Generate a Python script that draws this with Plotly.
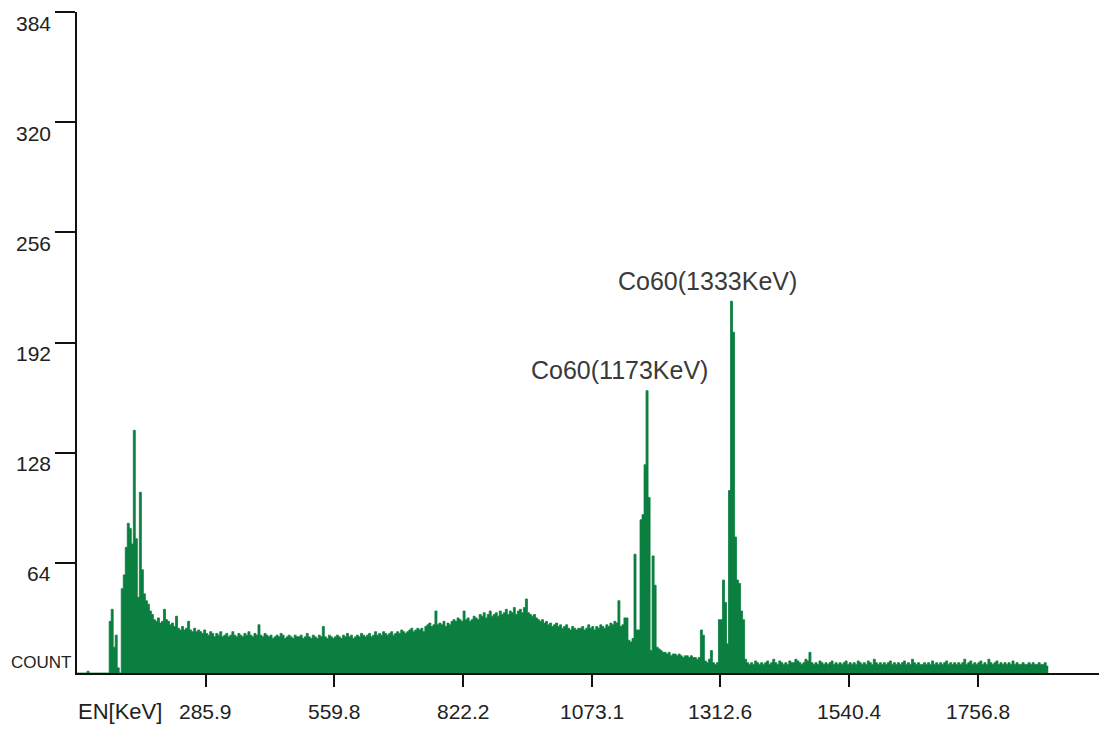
import plotly.graph_objects as go

# ---- data: gamma spectrum, counts per 4-channel bin (bin i starts at channel 4*i)
bin_width = 4
counts = [
    0, 0, 0, 0, 0, 1, 0, 0, 0, 0,
    0, 0, 0, 0, 0, 0, 30, 37, 15, 22,
    3, 0, 49, 57, 73, 87, 84, 75, 141, 78,
    44, 105, 60, 46, 42, 40, 36, 34, 31, 30,
    32, 29, 30, 37, 31, 30, 28, 29, 27, 33,
    26, 25, 27, 25, 26, 30, 25, 24, 26, 24,
    25, 24, 23, 25, 23, 22, 24, 23, 21, 23,
    22, 24, 21, 22, 23, 21, 22, 24, 22, 21,
    23, 22, 21, 23, 22, 24, 22, 21, 23, 22,
    28, 22, 21, 23, 22, 21, 22, 20, 21, 22,
    21, 23, 22, 20, 21, 22, 21, 20, 22, 21,
    21, 22, 20, 21, 23, 21, 20, 22, 21, 20,
    22, 21, 27, 21, 20, 22, 21, 20, 21, 22,
    21, 20, 22, 21, 23, 21, 22, 20, 21, 22,
    21, 23, 22, 21, 22, 23, 21, 22, 24, 22,
    23, 22, 24, 23, 22, 23, 24, 22, 23, 24,
    23, 25, 24, 23, 24, 25, 26, 24, 25, 26,
    25, 26, 24, 27, 28, 29, 27, 28, 36, 28,
    29, 28, 30, 27, 29, 28, 30, 31, 30, 32,
    31, 30, 36, 31, 32, 30, 31, 33, 32, 31,
    34, 33, 35, 32, 34, 36, 33, 34, 35, 33,
    36, 34, 35, 37, 34, 36, 35, 38, 34, 36,
    37, 35, 38, 43, 35, 34, 33, 34, 32, 31,
    30, 31, 29, 30, 28, 29, 27, 28, 29, 27,
    28, 26, 27, 28, 26, 25, 27, 26, 25, 26,
    26, 27, 25, 26, 28, 26, 27, 25, 27, 26,
    28, 27, 26, 28, 27, 29, 28, 30, 29, 42,
    27, 28, 32, 32, 19, 18, 20, 69, 25, 25,
    89, 92, 121, 164, 102, 13, 68, 51, 15, 14,
    13, 12, 12, 11, 12, 10, 11, 11, 10, 11,
    10, 9, 10, 10, 9, 10, 9, 9, 8, 9,
    25, 22, 7, 6, 8, 13, 6, 5, 6, 31,
    31, 54, 41, 17, 106, 216, 198, 79, 54, 52,
    36, 31, 8, 6, 5, 6, 5, 7, 6, 5,
    6, 5, 6, 7, 5, 6, 8, 6, 5, 7,
    6, 5, 6, 5, 7, 6, 6, 8, 7, 6,
    5, 6, 8, 7, 12, 6, 5, 6, 5, 7,
    6, 5, 6, 5, 6, 7, 5, 6, 5, 6,
    5, 6, 7, 5, 6, 5, 6, 5, 7, 6,
    5, 6, 5, 7, 6, 5, 8, 6, 5, 6,
    5, 6, 5, 6, 7, 5, 6, 5, 6, 5,
    6, 7, 5, 6, 5, 8, 6, 5, 6, 5,
    5, 6, 5, 6, 5, 7, 5, 6, 5, 6,
    5, 6, 7, 5, 6, 5, 6, 5, 6, 5,
    6, 8, 5, 6, 7, 5, 6, 5, 6, 7,
    5, 6, 5, 8, 6, 5, 6, 7, 5, 6,
    5, 6, 5, 6, 5, 7, 5, 6, 5, 5,
    6, 5, 5, 6, 5, 6, 5, 5, 6, 5,
    5, 6, 4,
]

# x ticks: channel positions with energy labels
tick_channels = [256, 512, 768, 1024, 1280, 1536, 1792]
tick_energies = ["285.9", "559.8", "822.2", "1073.1", "1312.6", "1540.4", "1756.8"]
y_ticks = [64, 128, 192, 256, 320, 384]

peak_labels = ["Co60(1173KeV)", "Co60(1333KeV)"]
peak_label_pos = [(1080, 176), (1255, 228)]   # (channel, count) of label centres

x_max = 2033
y_max = 384

# ---- build step outline from bins
edges = [bin_width * i for i in range(len(counts) + 1)]
step_y = counts + [counts[-1]]

green = "#0a7f3f"
font_family = "Liberation Sans, Arial, sans-serif"

fig = go.Figure()
fig.add_trace(go.Scatter(
    x=edges, y=step_y, mode="lines", line=dict(shape="hv", color=green, width=0.8),
    fill="tozeroy", fillcolor=green, hoverinfo="skip", showlegend=False,
))

annotations = []
for v in y_ticks:
    annotations.append(dict(
        x=-0.0235, xref="paper", y=v, yref="y", text=str(v), showarrow=False,
        xanchor="right", yanchor="middle", yshift=-11,
        font=dict(family=font_family, size=21, color="#222222"),
    ))
annotations.append(dict(
    x=-0.004, xref="paper", y=0, yref="y", text="COUNT", showarrow=False,
    xanchor="right", yanchor="middle", yshift=11,
    font=dict(family=font_family, size=17, color="#222222"),
))
for ch, lab in zip(tick_channels, tick_energies):
    annotations.append(dict(
        x=ch, xref="x", y=0, yref="y", text=lab, showarrow=False,
        xanchor="center", yanchor="middle", yshift=-38,
        font=dict(family=font_family, size=21, color="#222222"),
    ))
annotations.append(dict(
    x=0, xref="x", y=0, yref="y", text="EN[KeV]", showarrow=False,
    xanchor="left", yanchor="middle", yshift=-38, xshift=-1,
    font=dict(family=font_family, size=22, color="#222222"),
))
for lab, (ch, cnt) in zip(peak_labels, peak_label_pos):
    annotations.append(dict(
        x=ch, xref="x", y=cnt, yref="y", text=lab, showarrow=False,
        xanchor="center", yanchor="middle",
        font=dict(family=font_family, size=25, color="#3a3a3a"),
    ))

fig.update_layout(
    width=1099, height=731,
    margin=dict(l=77, r=0, t=12, b=58),
    paper_bgcolor="white", plot_bgcolor="white",
    showlegend=False,
    annotations=annotations,
    xaxis=dict(
        range=[0, x_max], tickvals=tick_channels, showticklabels=False,
        ticks="outside", ticklen=12, tickwidth=1.5, tickcolor="#111111",
        showline=True, linecolor="#111111", linewidth=1.5,
        showgrid=False, zeroline=False, fixedrange=True,
    ),
    yaxis=dict(
        range=[0, y_max], tickvals=y_ticks, showticklabels=False,
        ticks="outside", ticklen=20, tickwidth=1.5, tickcolor="#111111",
        showline=True, linecolor="#111111", linewidth=1.5,
        showgrid=False, zeroline=False, fixedrange=True,
    ),
)

fig.write_html("out.html")
